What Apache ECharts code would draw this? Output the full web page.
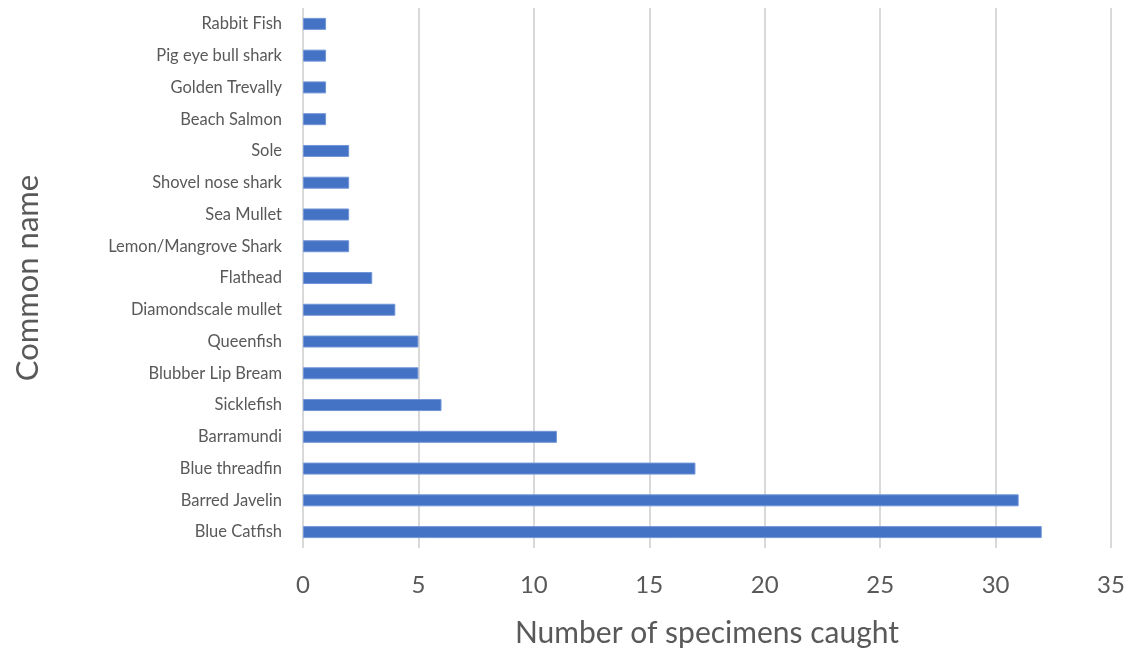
<!DOCTYPE html>
<html>
<head>
<meta charset="utf-8">
<script src="https://cdn.jsdelivr.net/npm/echarts@6/dist/echarts.min.js"></script>
<style>
  html, body { margin: 0; padding: 0; background: #fff; }
  #chart { width: 1137px; height: 657px; }
</style>
</head>
<body>
<div id="chart"></div>
<script>
// Species, listed bottom to top as they appear on the category axis
const species = [
  'Blue Catfish', 'Barred Javelin', 'Blue threadfin', 'Barramundi', 'Sicklefish',
  'Blubber Lip Bream', 'Queenfish', 'Diamondscale mullet', 'Flathead',
  'Lemon/Mangrove Shark', 'Sea Mullet', 'Shovel nose shark', 'Sole',
  'Beach Salmon', 'Golden Trevally', 'Pig eye bull shark', 'Rabbit Fish'
];
// Specimens caught per species
const caught = [32, 31, 17, 11, 6, 5, 5, 4, 3, 2, 2, 2, 2, 1, 1, 1, 1];
// Value axis ticks
const xTicks = [0, 5, 10, 15, 20, 25, 30, 35];

const font = 'Lato, "Open Sans", sans-serif';
const chart = echarts.init(document.getElementById('chart'), null, { renderer: 'canvas' });
chart.setOption({
  animation: false,
  grid: { left: 303, right: 26, top: 8, bottom: 109, containLabel: false },
  xAxis: {
    type: 'value',
    min: xTicks[0],
    max: xTicks[xTicks.length - 1],
    interval: xTicks[1] - xTicks[0],
    name: 'Number of specimens caught',
    nameLocation: 'middle',
    nameGap: 70,
    nameTextStyle: { fontFamily: font, fontSize: 30, color: '#595959' },
    axisLine: { show: false },
    axisTick: { show: false },
    axisLabel: { fontFamily: font, fontSize: 24, color: '#595959', margin: 25 },
    splitLine: { show: true, lineStyle: { color: '#d9d9d9', width: 2 } }
  },
  yAxis: {
    type: 'category',
    data: species,
    name: 'Common name',
    nameLocation: 'middle',
    nameGap: 260,
    nameRotate: 90,
    nameTextStyle: { fontFamily: font, fontSize: 31, color: '#595959' },
    axisLine: { show: false },
    axisTick: { show: false },
    axisLabel: { fontFamily: font, fontSize: 16.5, color: '#595959', margin: 21 },
    splitLine: { show: false }
  },
  series: [{
    type: 'bar',
    data: caught,
    barWidth: 12,
    itemStyle: { color: '#4472c4', borderColor: '#7396d8', borderWidth: 1 }
  }]
});
</script>
</body>
</html>
